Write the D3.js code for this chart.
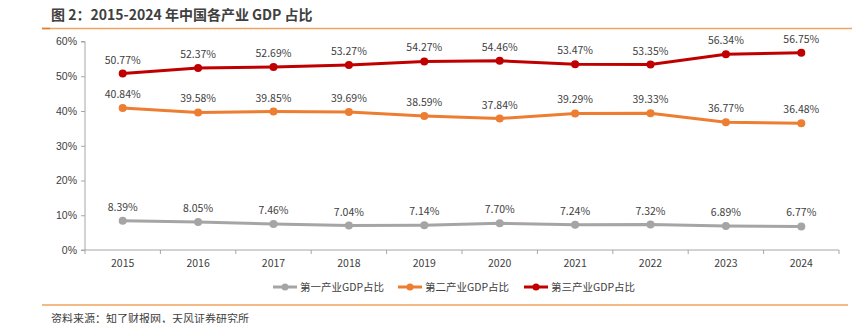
<!DOCTYPE html>
<html>
<head>
<meta charset="utf-8">
<script src="https://cdn.jsdelivr.net/npm/d3@7"></script>
<style>
  body { margin: 0; background: #fff; }
  svg { display: block; font-family: "Noto Sans CJK SC", "Noto Sans", sans-serif; }
</style>
</head>
<body>
<div id="chart"></div>
<script>
const years = ['2015', '2016', '2017', '2018', '2019', '2020', '2021', '2022', '2023', '2024'];
const primary = [8.39, 8.05, 7.46, 7.04, 7.14, 7.70, 7.24, 7.32, 6.89, 6.77];
const secondary = [40.84, 39.58, 39.85, 39.69, 38.59, 37.84, 39.29, 39.33, 36.77, 36.48];
const tertiary = [50.77, 52.37, 52.69, 53.27, 54.27, 54.46, 53.47, 53.35, 56.34, 56.75];
const yTicks = [0, 10, 20, 30, 40, 50, 60];
const seriesNames = ['第一产业GDP占比', '第二产业GDP占比', '第三产业GDP占比'];
const seriesColors = ['#a5a5a5', '#ed7d31', '#c00000'];

const W = 857, H = 323;
const svg = d3.select('#chart').append('svg').attr('width', W).attr('height', H);

// header
svg.append('text')
  .attr('x', 51).attr('y', 20)
  .attr('font-size', 14).attr('font-weight', 'bold').attr('fill', '#404040')
  .text('图 2：2015-2024 年中国各产业 GDP 占比');
svg.append('line').attr('x1', 42).attr('x2', 852).attr('y1', 28.5).attr('y2', 28.5)
  .attr('stroke', '#f0a35e').attr('stroke-width', 1.5);
svg.append('line').attr('x1', 42).attr('x2', 50).attr('y1', 28.5).attr('y2', 28.5)
  .attr('stroke', '#e07b2a').attr('stroke-width', 1.5);

const x = d3.scaleBand().domain(years).range([85, 839]);
const y = d3.scaleLinear().domain([0, 60]).range([250, 41.5]);

// y axis
const yAxis = svg.append('g').attr('transform', 'translate(85,0)')
  .call(d3.axisLeft(y).tickValues(yTicks).tickFormat(d => d + '%').tickSize(4).tickPadding(4));
yAxis.select('.domain').attr('stroke', '#a6a6a6').attr('d', 'M-4,41.5H0V250H-4');
yAxis.selectAll('.tick line').attr('stroke', '#a6a6a6');
yAxis.selectAll('.tick text').attr('fill', '#404040').attr('font-size', 10.5);

// x axis with ticks between categories
const xAxis = svg.append('g').attr('transform', 'translate(0,250)');
xAxis.append('line').attr('x1', 85).attr('x2', 839).attr('stroke', '#a6a6a6');
xAxis.selectAll('.xt').data(d3.range(years.length + 1)).enter().append('line')
  .attr('x1', i => 85 + i * x.step()).attr('x2', i => 85 + i * x.step())
  .attr('y1', 0).attr('y2', 4).attr('stroke', '#a6a6a6');
xAxis.selectAll('.xl').data(years).enter().append('text')
  .attr('x', d => x(d) + x.bandwidth() / 2).attr('y', 17)
  .attr('text-anchor', 'middle').attr('font-size', 10.5).attr('fill', '#404040')
  .text(d => d);

const line = d3.line()
  .x((d, i) => x(years[i]) + x.bandwidth() / 2)
  .y(d => y(d));

[primary, secondary, tertiary].forEach((vals, s) => {
  const g = svg.append('g');
  g.append('path').datum(vals)
    .attr('d', line).attr('fill', 'none')
    .attr('stroke', seriesColors[s]).attr('stroke-width', 3);
  g.selectAll('circle').data(vals).enter().append('circle')
    .attr('cx', (d, i) => x(years[i]) + x.bandwidth() / 2)
    .attr('cy', d => y(d)).attr('r', 4)
    .attr('fill', seriesColors[s]);
  g.selectAll('text').data(vals).enter().append('text')
    .attr('x', (d, i) => x(years[i]) + x.bandwidth() / 2)
    .attr('y', d => y(d) - 10)
    .attr('text-anchor', 'middle').attr('font-size', 10.5).attr('fill', '#404040')
    .text(d => d.toFixed(2) + '%');
});

// legend
const legendX = [273, 398, 524];
const legend = svg.append('g').attr('transform', 'translate(0,287)');
seriesNames.forEach((name, s) => {
  const lg = legend.append('g').attr('transform', 'translate(' + legendX[s] + ',0)');
  lg.append('line').attr('x1', 0).attr('x2', 24)
    .attr('stroke', seriesColors[s]).attr('stroke-width', 3);
  lg.append('circle').attr('cx', 12).attr('r', 3.5).attr('fill', seriesColors[s]);
  lg.append('text').attr('x', 27).attr('y', 4)
    .attr('font-size', 10.5).attr('fill', '#404040').text(name);
});

// footer
svg.append('line').attr('x1', 42).attr('x2', 848).attr('y1', 305).attr('y2', 305)
  .attr('stroke', '#f0a35e').attr('stroke-width', 1.5);
svg.append('text').attr('x', 51).attr('y', 323)
  .attr('font-size', 11).attr('fill', '#404040')
  .text('资料来源：知了财报网，天风证券研究所');
</script>
</body>
</html>
